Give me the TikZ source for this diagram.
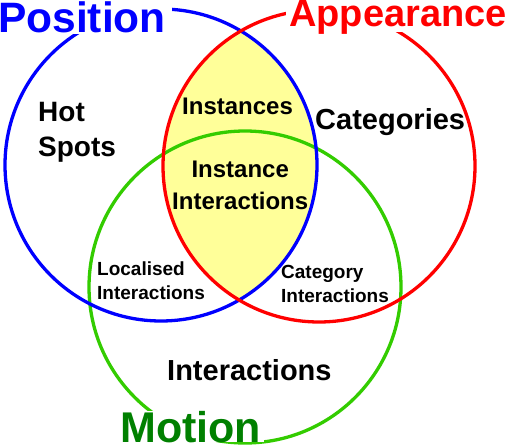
\documentclass[tikz,border=0pt]{standalone}
\usepackage{fontspec}
\setmainfont{Liberation Sans}
\usetikzlibrary{positioning}
\definecolor{posblue}{RGB}{0,0,255}
\definecolor{appred}{RGB}{255,0,0}
\definecolor{motgreen}{RGB}{51,204,0}
\definecolor{motdark}{RGB}{0,128,0}
\definecolor{lensyellow}{RGB}{255,255,153}

\begin{document}
\begin{tikzpicture}[
  x=1pt,y=-1pt,
  ring/.style={line width=3.3pt},
  title/.style={fill=white,inner xsep=3pt,inner ysep=1pt,anchor=base west,font=\fontsize{#1}{#1}\selectfont\bfseries},
  lbl/.style 2 args={inner sep=0pt,anchor=base west,align=left,font=\fontsize{#1}{#2}\selectfont\bfseries}
]
\useasboundingbox (0,0) rectangle (508,446);
\coordinate (cpos) at (161,165);
\coordinate (capp) at (319,166);
\coordinate (cmot) at (245,287);

% lens shared by position and appearance
\begin{scope}
  \clip (cpos) circle (156pt);
  \fill[lensyellow] (capp) circle (156pt);
\end{scope}
\draw[ring,motgreen] (cmot) circle (156pt);
\draw[ring,posblue] (cpos) circle (156pt);
\draw[ring,appred] (capp) circle (156pt);

% set titles
\node[title=42.5,inner xsep=6pt,text=posblue] (lpos) at (-8,33) {Position};
\node[title=38,text depth=4pt,text=appred] (lapp) at (286,27) {Appearance};
\node[title=43,inner ysep=0pt,text=motdark] (lmot) at (117,442) {Motion};

% region labels (base = last line)
\node[lbl={28}{35}] (hot) at (38,157) {Hot\\Spots};
\node[lbl={24}{30}] (inst) at (182,115) {Instances};
\node[lbl={24}{32},align=center] (instint) at (172,210) {Instance\\Interactions};
\node[lbl={29}{35}] (cat) at (315,130) {Categories};
\node[lbl={19}{24}] (locint) at (97,299) {Localised\\Interactions};
\node[lbl={19}{24}] (catint) at (281,302) {Category\\Interactions};
\node[lbl={29}{35}] (inter) at (167,380) {Interactions};
\end{tikzpicture}
\end{document}
